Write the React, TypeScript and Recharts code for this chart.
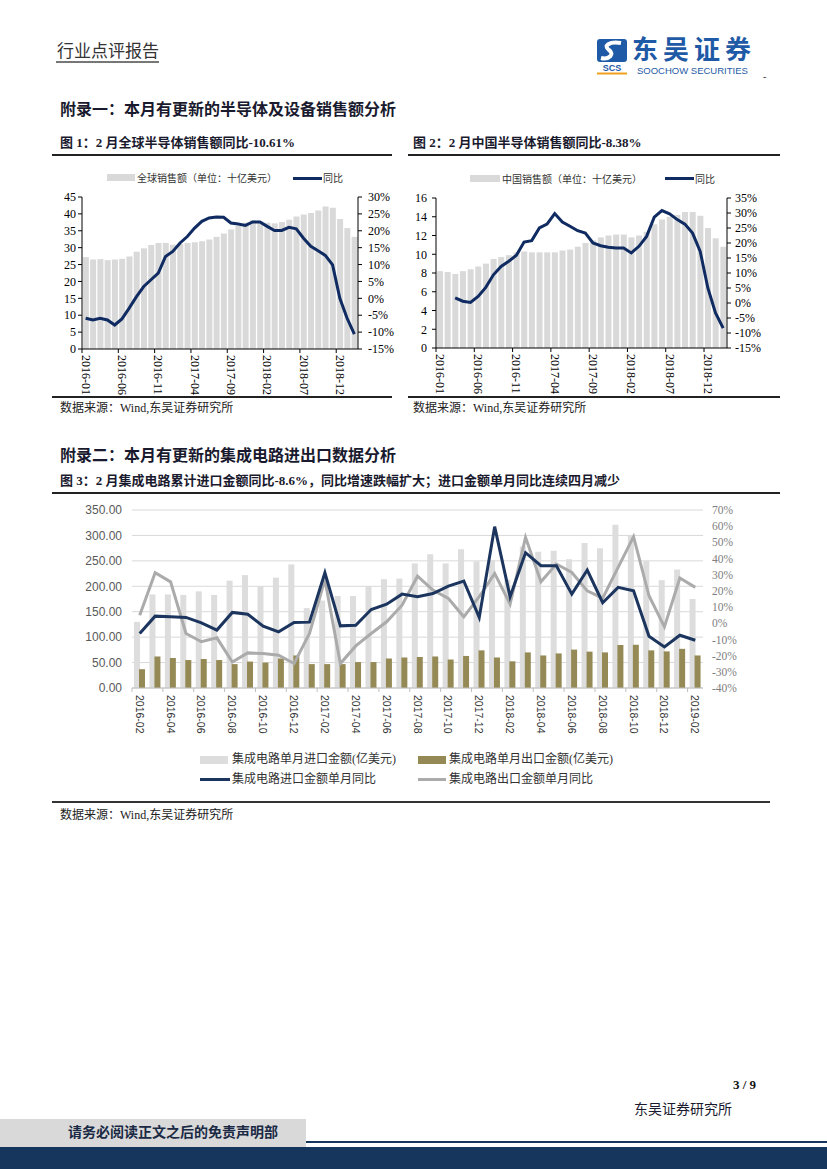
import React from 'react';
import { ComposedChart, Bar, Line, XAxis, YAxis, CartesianGrid } from 'recharts';

// ---------- Data ----------
const globalMonths = [
  '2016-01','2016-02','2016-03','2016-04','2016-05','2016-06','2016-07','2016-08','2016-09','2016-10','2016-11','2016-12',
  '2017-01','2017-02','2017-03','2017-04','2017-05','2017-06','2017-07','2017-08','2017-09','2017-10','2017-11','2017-12',
  '2018-01','2018-02','2018-03','2018-04','2018-05','2018-06','2018-07','2018-08','2018-09','2018-10','2018-11','2018-12',
  '2019-01','2019-02',
];
const globalSales = [27.2, 26.5, 26.6, 26.3, 26.5, 26.7, 27.4, 28.8, 29.8, 30.8, 31.4, 31.4, 30.9, 31.1, 31.4, 31.6, 31.9, 32.4, 33.2, 34.2, 35.4, 36.4, 37.4, 38.1, 37.8, 37.4, 37.2, 37.6, 38.3, 39.2, 39.8, 40.3, 41.0, 42.2, 41.8, 38.5, 35.8, 33.2];
const globalYoY = [-5.9, -6.4, -5.9, -6.4, -7.9, -6.1, -2.9, 0.5, 3.5, 5.5, 7.5, 12.4, 13.9, 16.4, 18.3, 20.8, 22.8, 23.8, 24.1, 24.0, 22.3, 22.0, 21.6, 22.6, 22.6, 21.3, 20.1, 20.1, 21.0, 20.6, 17.8, 15.4, 14.1, 12.7, 9.9, 0.0, -5.9, -10.61];

const chinaMonths = globalMonths;
const chinaSales = [8.2, 8.1, 7.9, 8.2, 8.4, 8.7, 9.0, 9.5, 9.7, 9.9, 10.2, 10.3, 10.2, 10.2, 10.2, 10.2, 10.4, 10.5, 10.8, 11.2, 11.5, 11.8, 12.0, 12.1, 12.1, 11.8, 12.0, 12.4, 13.2, 13.7, 14.0, 14.2, 14.5, 14.5, 14.1, 12.8, 11.7, 10.8];
const chinaYoY: (number | null)[] = [null, null, 1.7, 0.6, 0.2, 2.2, 5.2, 9.4, 12.2, 13.9, 15.9, 20.3, 20.8, 25.0, 26.3, 29.8, 27.0, 25.6, 24.1, 23.3, 20.0, 19.1, 18.6, 18.3, 18.3, 16.7, 18.9, 22.2, 28.6, 30.8, 29.7, 27.8, 26.3, 23.3, 17.2, 5.0, -3.3, -8.38];

const icMonths = [
  '2016-02','2016-03','2016-04','2016-05','2016-06','2016-07','2016-08','2016-09','2016-10','2016-11','2016-12',
  '2017-01','2017-02','2017-03','2017-04','2017-05','2017-06','2017-07','2017-08','2017-09','2017-10','2017-11','2017-12',
  '2018-01','2018-02','2018-03','2018-04','2018-05','2018-06','2018-07','2018-08','2018-09','2018-10','2018-11','2018-12',
  '2019-01','2019-02',
];
const icImport = [130, 184, 184, 183, 190, 183, 211, 222, 200, 217, 243, 157, 172, 181, 181, 200, 214, 215, 245, 263, 245, 273, 249, 251, 213, 278, 268, 270, 253, 285, 275, 321, 300, 250, 212, 233, 175];
const icExport = [37, 62, 59, 55, 57, 55, 47, 52, 50, 58, 64, 47, 47, 47, 51, 51, 58, 60, 61, 62, 56, 63, 74, 60, 52.5, 70, 64, 68, 75.5, 71.5, 70, 84.6, 85, 74, 72, 77, 64];
const icImportYoY = [-6.3, 4.4, 4.0, 3.6, 0.3, -4.2, 6.7, 5.6, -1.8, -5.3, 0.5, 0.7, 31.2, -1.6, -1.2, 8.5, 11.8, 18.0, 16.4, 18.4, 23.0, 26.1, 3.6, 59.7, 16.4, 43.6, 35.6, 35.6, 18.0, 32.9, 12.7, 22.2, 20.1, -8.0, -14.6, -7.4, -10.5];
const icExportYoY = [5.0, 31.2, 25.6, -6.3, -11.4, -9.0, -23.9, -18.3, -18.7, -19.7, -24.9, -6.3, 27.0, -24.9, -14.0, -6.3, 0.9, 11.2, 29.1, 20.5, 15.3, 4.0, 16.4, 30.8, 11.9, 53.1, 25.6, 36.6, 31.4, 20.0, 15.5, 34.5, 53.5, 17.0, -2.2, 28.0, 22.2];

const leftTicks1 = [0, 5, 10, 15, 20, 25, 30, 35, 40, 45];
const rightTicks1 = [-15, -10, -5, 0, 5, 10, 15, 20, 25, 30];
const leftTicks2 = [0, 2, 4, 6, 8, 10, 12, 14, 16];
const rightTicks2 = [-15, -10, -5, 0, 5, 10, 15, 20, 25, 30, 35];
const leftTicks3 = [0, 50, 100, 150, 200, 250, 300, 350];
const rightTicks3 = [-40, -30, -20, -10, 0, 10, 20, 30, 40, 50, 60, 70];

const data1 = globalMonths.map((m, i) => ({ month: m, sales: globalSales[i], yoy: globalYoY[i] }));
const data2 = chinaMonths.map((m, i) => ({ month: m, sales: chinaSales[i], yoy: chinaYoY[i] }));
const data3 = icMonths.map((m, i) => ({ month: m, imp: icImport[i], exp: icExport[i], impYoY: icImportYoY[i], expYoY: icExportYoY[i] }));

// ---------- Styles ----------
const SERIF = "'Liberation Serif', 'Noto Sans CJK SC', serif";
const CJK = "'Liberation Serif', 'Noto Sans CJK SC', sans-serif";
const NAVY1 = '#0f2b62';
const NAVY3 = '#1b355f';
const GREY3 = '#ababab';
const BARGREY = '#d9d9d9';
const BARGREY3 = '#dddddd';
const OLIVE = '#958a55';
const LOGO_BLUE = '#1f5aa6';

function BottomTick(props: any) {
  const { x, y, payload, band, font, size, color, tickColor, tickLen, gap } = props;
  const bx = x - band / 2;
  return (
    <g>
      <line x1={bx} x2={bx} y1={y} y2={y + tickLen} stroke={tickColor} strokeWidth={1} />
      <text
        x={0}
        y={0}
        transform={`translate(${x},${y + gap}) rotate(90)`}
        textAnchor="start"
        dominantBaseline="central"
        fontFamily={font}
        fontSize={size}
        fill={color}
      >
        {payload.value}
      </text>
    </g>
  );
}

function Abs({ x, y, children, style }: any) {
  return <div style={{ position: 'absolute', left: x, top: y, whiteSpace: 'nowrap', ...style }}>{children}</div>;
}

function HLine({ x1, x2, y, h = 2, color = '#222' }: any) {
  return <div style={{ position: 'absolute', left: x1, top: y, width: x2 - x1, height: h, background: color }} />;
}

function Chart1() {
  const band = 276 / 38;
  return (
    <div style={{ position: 'absolute', left: 40, top: 190 }}>
      <ComposedChart width={360} height={215} data={data1} margin={{ top: 7, right: 0, bottom: 6, left: 0 }} barCategoryGap="12%">
        <XAxis
          dataKey="month"
          interval={4}
          height={50}
          tickSize={0}
          tickMargin={0}
          tickLine={false}
          axisLine={{ stroke: '#000' }}
          tick={(p: any) => <BottomTick {...p} band={band} font={SERIF} size={12} color="#000" tickColor="#000" tickLen={4} gap={6} />}
        />
        <YAxis
          yAxisId="left"
          width={42}
          domain={[0, 45]}
          ticks={leftTicks1}
          interval={0}
          tickSize={4}
          tickMargin={2}
          axisLine={{ stroke: '#000' }}
          tickLine={{ stroke: '#000' }}
          tick={{ fontSize: 12, fontFamily: SERIF, fill: '#000' }}
        />
        <YAxis
          yAxisId="right"
          orientation="right"
          width={42}
          domain={[-15, 30]}
          ticks={rightTicks1}
          interval={0}
          tickSize={4}
          tickMargin={6}
          axisLine={{ stroke: '#000' }}
          tickLine={{ stroke: '#000' }}
          tick={{ fontSize: 12, fontFamily: SERIF, fill: '#000', textAnchor: 'start' }}
          tickFormatter={(v: number) => `${v}%`}
        />
        <Bar yAxisId="left" dataKey="sales" fill={BARGREY} isAnimationActive={false} />
        <Line yAxisId="right" dataKey="yoy" stroke={NAVY1} strokeWidth={3} dot={false} activeDot={false} isAnimationActive={false} />
      </ComposedChart>
    </div>
  );
}

function Chart2() {
  const band = 291 / 38;
  return (
    <div style={{ position: 'absolute', left: 395, top: 191 }}>
      <ComposedChart width={380} height={214} data={data2} margin={{ top: 7, right: 0, bottom: 7, left: 0 }} barCategoryGap="13%">
        <XAxis
          dataKey="month"
          interval={4}
          height={50}
          tickSize={0}
          tickMargin={0}
          tickLine={false}
          axisLine={{ stroke: '#000' }}
          tick={(p: any) => <BottomTick {...p} band={band} font={SERIF} size={12} color="#000" tickColor="#000" tickLen={4} gap={6} />}
        />
        <YAxis
          yAxisId="left"
          width={41}
          domain={[0, 16]}
          ticks={leftTicks2}
          interval={0}
          tickSize={4}
          tickMargin={5}
          axisLine={{ stroke: '#000' }}
          tickLine={{ stroke: '#000' }}
          tick={{ fontSize: 12, fontFamily: SERIF, fill: '#000' }}
        />
        <YAxis
          yAxisId="right"
          orientation="right"
          width={48}
          domain={[-15, 35]}
          ticks={rightTicks2}
          interval={0}
          tickSize={4}
          tickMargin={4}
          axisLine={{ stroke: '#000' }}
          tickLine={{ stroke: '#000' }}
          tick={{ fontSize: 12, fontFamily: SERIF, fill: '#000', textAnchor: 'start' }}
          tickFormatter={(v: number) => `${v}%`}
        />
        <Bar yAxisId="left" dataKey="sales" fill={BARGREY} isAnimationActive={false} />
        <Line yAxisId="right" dataKey="yoy" stroke={NAVY1} strokeWidth={3} dot={false} activeDot={false} connectNulls={false} isAnimationActive={false} />
      </ComposedChart>
    </div>
  );
}

function Chart3() {
  const band = 571 / 37;
  return (
    <div style={{ position: 'absolute', left: 60, top: 500 }}>
      <ComposedChart width={720} height={245} data={data3} margin={{ top: 10, right: 0, bottom: 0, left: 0 }} barSize={6} barGap={-1}>
        <CartesianGrid yAxisId="left" vertical={false} stroke="#d9d9d9" />
        <XAxis
          dataKey="month"
          interval={1}
          height={57}
          tickSize={0}
          tickMargin={0}
          tickLine={false}
          axisLine={{ stroke: '#bfbfbf' }}
          tick={(p: any) => <BottomTick {...p} band={band} font="'Liberation Sans', sans-serif" size={10.5} color="#333" tickColor="#bfbfbf" tickLen={4} gap={7} />}
        />
        <YAxis
          yAxisId="left"
          width={72}
          domain={[0, 350]}
          ticks={leftTicks3}
          interval={0}
          tickSize={6}
          tickMargin={4}
          axisLine={false}
          tickLine={false}
          tick={{ fontSize: 12, fontFamily: "'Liberation Sans', sans-serif", fill: '#595959' }}
          tickFormatter={(v: number) => v.toFixed(2)}
        />
        <YAxis
          yAxisId="right"
          orientation="right"
          width={77}
          domain={[-40, 70]}
          ticks={rightTicks3}
          interval={0}
          tickSize={6}
          tickMargin={3}
          axisLine={false}
          tickLine={false}
          tick={{ fontSize: 11.5, fontFamily: SERIF, fill: '#808080', textAnchor: 'start' }}
          tickFormatter={(v: number) => `${v}%`}
        />
        <Bar yAxisId="left" dataKey="imp" fill={BARGREY3} isAnimationActive={false} />
        <Bar yAxisId="left" dataKey="exp" fill={OLIVE} isAnimationActive={false} />
        <Line yAxisId="right" dataKey="expYoY" stroke={GREY3} strokeWidth={3} dot={false} activeDot={false} isAnimationActive={false} />
        <Line yAxisId="right" dataKey="impYoY" stroke={NAVY3} strokeWidth={3} dot={false} activeDot={false} isAnimationActive={false} />
      </ComposedChart>
    </div>
  );
}

function Logo() {
  return (
    <>
      <svg style={{ position: 'absolute', left: 595, top: 36 }} width={36} height={40}>
        <rect x={2} y={3} width={30} height={23} rx={3} fill={LOGO_BLUE} />
        <path d="M26 7 C14 5, 8 10, 14 14 C20 18, 14 24, 6 22" stroke="#fff" strokeWidth={4} fill="none" />
        <rect x={2} y={36.5} width={30} height={2} fill="#f0a020" />
      </svg>
      <Abs x={597} y={64} style={{ width: 30, textAlign: 'center', fontSize: 9, lineHeight: '9px', fontWeight: 700, color: LOGO_BLUE, fontFamily: "'Liberation Sans', sans-serif" }}>SCS</Abs>
      <Abs x={632} y={35} style={{ fontSize: 26, lineHeight: '26px', letterSpacing: 5, fontWeight: 700, color: LOGO_BLUE, fontFamily: "'Noto Sans CJK SC', sans-serif" }}>东吴证券</Abs>
      <Abs x={637} y={65.5} style={{ fontSize: 9.5, lineHeight: '10px', color: LOGO_BLUE, fontFamily: "'Liberation Sans', sans-serif" }}>SOOCHOW SECURITIES</Abs>
    </>
  );
}

export default function App() {
  return (
    <div style={{ position: 'absolute', left: 0, top: 0, width: 827, height: 1169, background: '#fff', overflow: 'hidden', fontFamily: CJK }}>
      {/* Header */}
      <Abs x={57} y={41} style={{ fontSize: 17, lineHeight: '18px', color: '#333', fontFamily: "'Noto Sans CJK SC', sans-serif" }}>行业点评报告</Abs>
      <HLine x1={56} x2={159} y={61} h={1.5} color="#777" />
      <Logo />
      <Abs x={763} y={72} style={{ fontSize: 10, lineHeight: '10px', color: '#333' }}>-</Abs>

      {/* Section 1 */}
      <Abs x={60} y={101} style={{ fontSize: 16, lineHeight: '18px', fontWeight: 700, color: '#1a1a2e' }}>附录一：本月有更新的半导体及设备销售额分析</Abs>
      <Abs x={60} y={135} style={{ fontSize: 13, lineHeight: '16px', fontWeight: 700, color: '#1a1a2e' }}>图 1：2 月全球半导体销售额同比-10.61%</Abs>
      <Abs x={413} y={135} style={{ fontSize: 13, lineHeight: '16px', fontWeight: 700, color: '#1a1a2e' }}>图 2：2 月中国半导体销售额同比-8.38%</Abs>
      <HLine x1={52} x2={392} y={154} h={2} />
      <HLine x1={408} x2={780} y={154} h={2} />

      {/* Chart 1 legend */}
      <div style={{ position: 'absolute', left: 107, top: 174, width: 28, height: 7, background: BARGREY }} />
      <Abs x={137} y={171} style={{ fontSize: 10, lineHeight: '13px', color: '#333', fontFamily: "'Noto Sans CJK SC', sans-serif" }}>全球销售额（单位：十亿美元）</Abs>
      <div style={{ position: 'absolute', left: 293, top: 176.5, width: 29, height: 3, background: NAVY1 }} />
      <Abs x={323} y={171} style={{ fontSize: 10, lineHeight: '13px', color: '#333', fontFamily: "'Noto Sans CJK SC', sans-serif" }}>同比</Abs>
      <Chart1 />

      {/* Chart 2 legend */}
      <div style={{ position: 'absolute', left: 470, top: 175, width: 30, height: 7, background: BARGREY }} />
      <Abs x={502} y={172} style={{ fontSize: 10, lineHeight: '13px', color: '#333', fontFamily: "'Noto Sans CJK SC', sans-serif" }}>中国销售额（单位：十亿美元）</Abs>
      <div style={{ position: 'absolute', left: 665, top: 177, width: 29, height: 3, background: NAVY1 }} />
      <Abs x={695} y={172} style={{ fontSize: 10, lineHeight: '13px', color: '#333', fontFamily: "'Noto Sans CJK SC', sans-serif" }}>同比</Abs>
      <Chart2 />

      <HLine x1={52} x2={392} y={396} h={2} />
      <HLine x1={408} x2={780} y={396} h={2} />
      <Abs x={60} y={401} style={{ fontSize: 12, lineHeight: '14px', color: '#222' }}>数据来源：Wind,东吴证券研究所</Abs>
      <Abs x={413} y={401} style={{ fontSize: 12, lineHeight: '14px', color: '#222' }}>数据来源：Wind,东吴证券研究所</Abs>

      {/* Section 2 */}
      <Abs x={60} y={447} style={{ fontSize: 16, lineHeight: '18px', fontWeight: 700, color: '#1a1a2e' }}>附录二：本月有更新的集成电路进出口数据分析</Abs>
      <Abs x={60} y={473} style={{ fontSize: 13, lineHeight: '16px', fontWeight: 700, color: '#1a1a2e' }}>图 3：2 月集成电路累计进口金额同比-8.6%，同比增速跌幅扩大；进口金额单月同比连续四月减少</Abs>
      <HLine x1={52} x2={780} y={492} h={2} />
      <Chart3 />

      {/* Chart 3 legend */}
      <div style={{ position: 'absolute', left: 200, top: 756, width: 28, height: 8, background: BARGREY3 }} />
      <Abs x={232} y={752} style={{ fontSize: 12, lineHeight: '15px', color: '#333' }}>集成电路单月进口金额(亿美元)</Abs>
      <div style={{ position: 'absolute', left: 418, top: 756, width: 28, height: 8, background: OLIVE }} />
      <Abs x={449} y={752} style={{ fontSize: 12, lineHeight: '15px', color: '#333' }}>集成电路单月出口金额(亿美元)</Abs>
      <div style={{ position: 'absolute', left: 200, top: 778, width: 30, height: 3, background: NAVY3 }} />
      <Abs x={232} y={772} style={{ fontSize: 12, lineHeight: '15px', color: '#333' }}>集成电路进口金额单月同比</Abs>
      <div style={{ position: 'absolute', left: 418, top: 778, width: 28, height: 3, background: GREY3 }} />
      <Abs x={449} y={772} style={{ fontSize: 12, lineHeight: '15px', color: '#333' }}>集成电路出口金额单月同比</Abs>

      <HLine x1={52} x2={770} y={801} h={2} color="#333" />
      <Abs x={60} y={808} style={{ fontSize: 12, lineHeight: '14px', color: '#222' }}>数据来源：Wind,东吴证券研究所</Abs>

      {/* Footer */}
      <Abs x={733} y={1078} style={{ fontSize: 13, lineHeight: '14px', fontWeight: 700, color: '#111', fontFamily: SERIF }}>3 / 9</Abs>
      <Abs x={634} y={1102} style={{ fontSize: 14, lineHeight: '16px', color: '#1a1a2e' }}>东吴证券研究所</Abs>
      <div style={{ position: 'absolute', left: 0, top: 1119, width: 306, height: 28, background: '#d9d9d9' }} />
      <Abs x={68} y={1125} style={{ fontSize: 14, lineHeight: '16px', fontWeight: 700, color: '#1a2a44' }}>请务必阅读正文之后的免责声明部</Abs>
      <div style={{ position: 'absolute', left: 306, top: 1141, width: 521, height: 1.5, background: '#17365d' }} />
      <div style={{ position: 'absolute', left: 0, top: 1147, width: 827, height: 22, background: '#17365d' }} />
    </div>
  );
}
